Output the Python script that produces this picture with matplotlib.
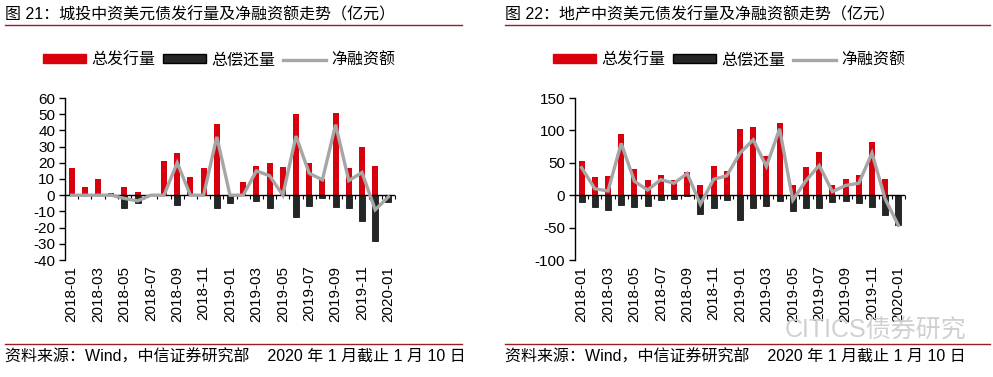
import matplotlib
matplotlib.use("Agg")
import matplotlib.pyplot as plt
from matplotlib.lines import Line2D
from matplotlib.patches import Patch
import numpy as np

plt.rcParams["font.family"] = ["Liberation Sans", "Noto Sans CJK SC", "DejaVu Sans"]

# ---------------------------------------------------------------------------
# Data (亿元)
# ---------------------------------------------------------------------------
months = [f"{y}-{m:02d}" for y in (2018, 2019) for m in range(1, 13)] + ["2020-01"]

# 图 21 城投
issue_ct = [17, 5, 10, 1.5, 5, 2, 0, 21, 26, 11, 16.5, 44, 0,
            8, 18, 20, 17.5, 50, 20, 10, 51, 17, 30, 18, 0]
repay_ct = [0, 0, 0, 0, -8, -5, 0, 0, -6, 0, 0, -8, -5,
            0, -3.5, -8, 0, -13.5, -6.5, -1.5, -7.5, -8, -16, -28, -4]
net_ct = [0, 0, 0, 0, -2, -3.5, 0, 0, 20, 0, 0, 36, 0,
          0, 15, 12, 0, 36.5, 13.5, 9.5, 43.5, 9, 14, -9, -1]

# 图 22 地产
issue_dc = [53.5, 28, 30, 95, 40, 24, 31, 24, 35.5, 15.5, 45, 37.5, 102,
            105, 61, 112, 16.5, 43, 66.5, 16, 24.5, 31, 82.5, 24.5, 0]
repay_dc = [-11, -18, -23.5, -15, -18.5, -16, -7, -5.5, -2, -29.5, -20.5, -7.5, -37.5,
            -19.5, -16.5, -9.5, -24, -20.5, -20.5, -10.5, -9.5, -12.5, -17.5, -31, -46.5]
net_dc = [42.5, 10, 6.5, 80, 21.5, 8, 24, 18.5, 33.5, -14, 24.5, 30, 65,
          85.5, 44.5, 102.5, -7.5, 22.5, 46, 5.5, 15, 18.5, 65, -6, -46.5]

series_names = ["总发行量", "总偿还量", "净融资额"]
source_text = "资料来源：Wind，中信证券研究部    2020 年 1 月截止 1 月 10 日"

RED = "#d9000d"
BLACK = "#262626"
GRAY = "#a6a6a6"
RULE = "#9b1c24"

W, H = 993, 377


def draw_panel(fig, px_left, text_left, title, issue, repay, net, ylim, yticks):
    x = np.arange(len(months))
    ax = fig.add_axes([px_left / W, 1 - 260 / H, 330 / W, (260 - 98) / H])
    ax.bar(x, issue, width=0.45, color=RED, zorder=2)
    ax.bar(x, repay, width=0.45, color=BLACK, edgecolor="black", linewidth=0.5, zorder=2)
    ax.plot(x, net, color=GRAY, linewidth=2.4, zorder=4, solid_joinstyle="miter")
    ax.axhline(0, color="black", linewidth=1.0, zorder=3)

    ax.set_xlim(-0.5, len(months) - 0.5)
    ax.set_ylim(*ylim)
    ax.set_yticks(yticks)
    ax.set_yticklabels([str(v) for v in yticks])
    ax.tick_params(axis="y", direction="out", length=4, width=1, labelsize=11, pad=3)

    ax.set_xticks(x[::2])
    ax.set_xticklabels(months[::2], rotation=90, fontsize=11)
    ax.tick_params(axis="x", length=0, pad=4)

    for side in ("top", "right", "bottom"):
        ax.spines[side].set_visible(False)
    ax.spines["left"].set_linewidth(1.0)

    # small ticks along the zero line
    zero_loc = (0 - ylim[0]) / (ylim[1] - ylim[0])
    sec = ax.secondary_xaxis(zero_loc)
    sec.set_xticks(np.arange(len(months) + 1) - 0.5)
    sec.tick_params(axis="x", direction="out", length=3, width=0.8, labelbottom=False,
                    labeltop=False, bottom=True, top=False)
    sec.spines["bottom"].set_visible(False)
    sec.spines["top"].set_visible(False)

    handles = [
        Patch(facecolor=RED, edgecolor=RED),
        Patch(facecolor=BLACK, edgecolor="black"),
        Line2D([0], [0], color=GRAY, linewidth=2.4),
    ]
    ax.legend(handles, series_names, loc="center", ncol=3, frameon=False,
              bbox_to_anchor=((px_left - 65 + 219) / W, 1 - 60 / H),
              bbox_transform=fig.transFigure, fontsize=11.5,
              handlelength=2.7, handleheight=0.5, handletextpad=0.3, columnspacing=0.5)

    tx = text_left / W
    fig.text(tx, 1 - 15 / H, title, fontsize=11.5, ha="left", va="center")
    fig.text(tx, 1 - 357 / H, source_text, fontsize=11.5, ha="left", va="center")
    return ax


fig = plt.figure(figsize=(W / 100, H / 100), dpi=100)

draw_panel(fig, 65, 5, "图 21：城投中资美元债发行量及净融资额走势（亿元）",
           issue_ct, repay_ct, net_ct, (-40, 60), list(range(-40, 61, 10)))
draw_panel(fig, 575, 505, "图 22：地产中资美元债发行量及净融资额走势（亿元）",
           issue_dc, repay_dc, net_dc, (-100, 150), list(range(-100, 151, 50)))

# red rules under titles and above sources
for x0, x1 in ((5, 462), (505, 990)):
    for yy in (25, 344):
        fig.add_artist(Line2D([x0 / W, x1 / W], [1 - yy / H, 1 - yy / H],
                              color=RULE, linewidth=1.0))

# watermark
fig.text(785 / W, 1 - 330 / H, "CITICS债券研究", fontsize=18, color="#d0d0d0",
         ha="left", va="center")

fig.savefig("out.png", dpi=100)
